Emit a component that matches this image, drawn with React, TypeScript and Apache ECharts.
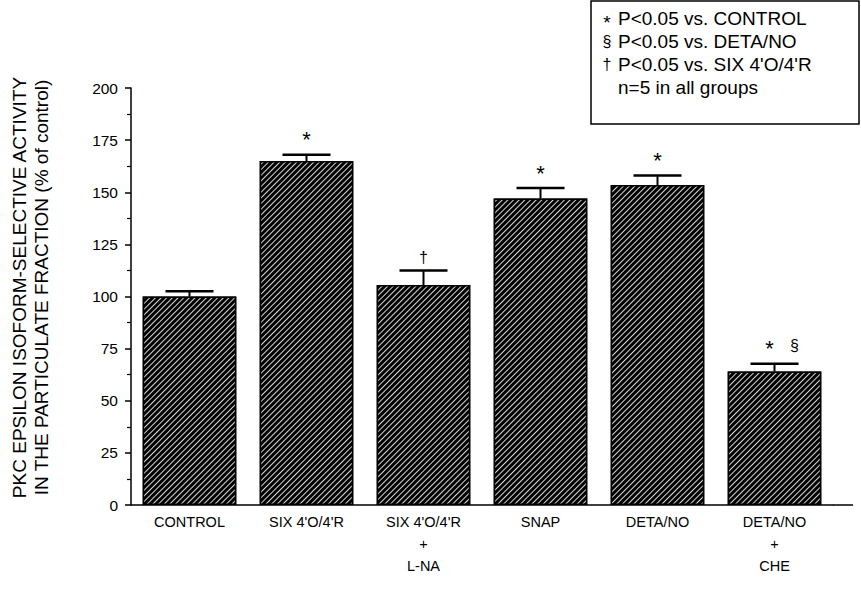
import React, { useEffect, useRef } from "react";
import * as echarts from "echarts";

// Groups along the x axis
const categories = [
  "CONTROL",
  "SIX 4'O/4'R",
  "SIX 4'O/4'R\n+\nL-NA",
  "SNAP",
  "DETA/NO",
  "DETA/NO\n+\nCHE",
];

// Mean PKC epsilon activity (% of control) and upper error (SEM)
const means = [100, 165, 105.5, 147, 153.5, 64];
const errors = [2.5, 3, 7, 5, 4.5, 3.8];

// Significance marks drawn above each error bar
const marks: string[][] = [[], ["*"], ["\u2020"], ["*"], ["*"], ["*", "\u00a7"]];

// Y axis
const yMin = 0;
const yMax = 200;
const yStep = 25;

// Key box lines
const keySymbols = ["*", "\u00a7", "\u2020", ""];
const keyTexts = [
  "P<0.05 vs. CONTROL",
  "P<0.05 vs. DETA/NO",
  "P<0.05 vs. SIX 4'O/4'R",
  "n=5 in all groups",
];

const FONT = "'Liberation Sans', Arial, Helvetica, sans-serif";

// Glyph size and vertical nudge for each significance symbol
function symbolStyle(s: string, size = 22) {
  if (s === "*") return { size, dy: Math.round(size * 0.22) };
  return { size: 16, dy: 0 };
}

export default function App() {
  const ref = useRef<HTMLDivElement>(null);

  useEffect(() => {
    document.body.style.margin = "0";
    if (!ref.current) return;
    const chart = echarts.init(ref.current, undefined, { renderer: "svg" });

    const keyChildren: any[] = [
      {
        type: "rect",
        shape: { x: 591, y: 1, width: 268, height: 123 },
        style: { fill: "#fff", stroke: "#000", lineWidth: 1.5 },
      },
    ];
    keyTexts.forEach((t, i) => {
      const y = 18 + i * 23;
      const sym = keySymbols[i];
      if (sym) {
        const st = symbolStyle(sym, 19);
        keyChildren.push({
          type: "text",
          x: 607,
          y: y + st.dy,
          style: {
            text: sym,
            font: `${st.size}px ${FONT}`,
            fill: "#000",
            align: "center",
            verticalAlign: "middle",
          },
        });
      }
      keyChildren.push({
        type: "text",
        x: 618,
        y,
        style: {
          text: t,
          font: `19px ${FONT}`,
          fill: "#000",
          verticalAlign: "middle",
        },
      });
    });

    chart.setOption({
      animation: false,
      backgroundColor: "#fff",
      grid: { left: 123, top: 88, width: 710, height: 417, containLabel: false },
      xAxis: {
        type: "category",
        data: categories,
        axisLine: { lineStyle: { color: "#000", width: 1.5 } },
        axisTick: { show: false },
        axisLabel: {
          color: "#000",
          fontFamily: FONT,
          fontSize: 14.5,
          lineHeight: 22,
          margin: 6,
          interval: 0,
        },
      },
      yAxis: {
        type: "value",
        min: yMin,
        max: yMax,
        interval: yStep,
        name: "PKC EPSILON ISOFORM-SELECTIVE ACTIVITY\nIN THE PARTICULATE FRACTION (% of control)",
        nameLocation: "middle",
        nameGap: 79,
        nameTextStyle: {
          color: "#000",
          fontFamily: FONT,
          fontSize: 19,
          lineHeight: 22,
          padding: [0, 0, 0, 18],
        },
        axisLine: { show: true, lineStyle: { color: "#000", width: 1.5 } },
        axisTick: { show: true, length: 6, lineStyle: { color: "#000", width: 1.5 } },
        minorTick: { show: true, splitNumber: 2, length: 4, lineStyle: { color: "#000", width: 1.2 } },
        splitLine: { show: false },
        axisLabel: { color: "#000", fontFamily: FONT, fontSize: 15.5, margin: 13 },
      },
      series: [
        {
          type: "bar",
          data: means,
          barWidth: "80%",
          itemStyle: {
            color: "#000",
            borderColor: "#000",
            borderWidth: 1.5,
            decal: {
              symbol: "rect",
              symbolSize: 1,
              color: "rgba(255,255,255,0.85)",
              dashArrayX: [1, 0],
              dashArrayY: [1, 2.8],
              rotation: -Math.PI / 4,
            },
          },
        },
        {
          type: "custom",
          data: means.map((m, i) => [i, m, errors[i]]),
          z: 5,
          renderItem: (params: any, api: any) => {
            const i = api.value(0);
            const m = api.value(1);
            const e = api.value(2);
            const base = api.coord([i, m]);
            const top = api.coord([i, m + e]);
            const half = 24;
            const children: any[] = [
              {
                type: "line",
                shape: { x1: base[0], y1: base[1], x2: top[0], y2: top[1] },
                style: { stroke: "#000", lineWidth: 2 },
              },
              {
                type: "line",
                shape: { x1: top[0] - half, y1: top[1], x2: top[0] + half, y2: top[1] },
                style: { stroke: "#000", lineWidth: 2.5 },
              },
            ];
            const syms = marks[i];
            const offsets = syms.length > 1 ? [-5, 20] : [0];
            syms.forEach((s, k) => {
              const st = symbolStyle(s);
              const lift = s === "\u2020" ? 13 : s === "*" ? 20 : 18;
              children.push({
                type: "text",
                x: top[0] + offsets[k],
                y: top[1] - lift + st.dy,
                style: {
                  text: s,
                  font: `${st.size}px ${FONT}`,
                  fill: "#000",
                  align: "center",
                  verticalAlign: "middle",
                },
              });
            });
            return { type: "group", children };
          },
        },
      ],
      graphic: [
        {
          type: "line",
          shape: { x1: 833, y1: 505, x2: 853, y2: 505 },
          style: { stroke: "#000", lineWidth: 1.5 },
        },
        { type: "group", children: keyChildren },
      ],
    });

    return () => chart.dispose();
  }, []);

  return <div ref={ref} style={{ width: 861, height: 604 }} />;
}
